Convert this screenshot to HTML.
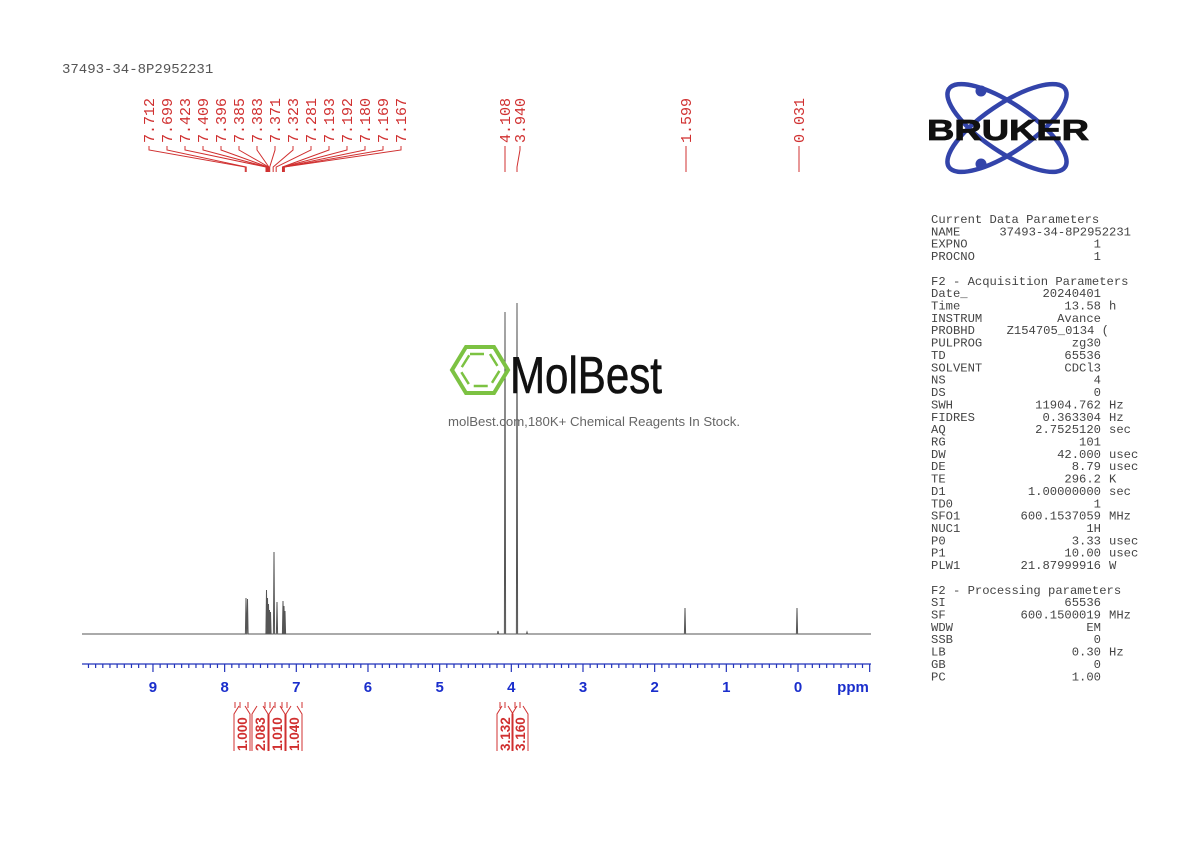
<!DOCTYPE html>
<html><head><meta charset="utf-8"><style>
html,body{margin:0;padding:0;background:#fff;}
svg{display:block;}
.m{font-family:"Liberation Mono",monospace;}
</style></head><body>
<svg id="s" width="1190" height="842" xmlns="http://www.w3.org/2000/svg">
<rect width="1190" height="842" fill="#fff"/>
<text x="62" y="73" class="m" font-size="14" fill="#555">37493-34-8P2952231</text>
<g id="peaklabels" fill="#d03030" class="m" font-size="15"></g>
<g id="ticks" stroke="#d03030" stroke-width="1" fill="none"></g>
<path id="spec" fill="none" stroke="#555" stroke-width="1"/>
<g id="axis" stroke="#2233bb" stroke-width="1.2"></g>
<g id="axl" fill="#1a2ecc" font-family="Liberation Sans,sans-serif" font-weight="bold" font-size="15" text-anchor="middle"></g>
<text x="853" y="692" fill="#1a2ecc" font-family="Liberation Sans,sans-serif" font-weight="bold" font-size="15" text-anchor="middle">ppm</text>
<g id="integ" fill="#d03030" font-family="Liberation Sans,sans-serif" font-weight="bold" font-size="13.5"></g>
<g id="integl" stroke="#d03030" fill="none" stroke-width="1"></g>
<!-- Bruker logo -->
<g>
<ellipse cx="1007" cy="128" rx="70" ry="24" fill="none" stroke="#3344aa" stroke-width="4.5" transform="rotate(34 1007 128)"/>
<ellipse cx="1007" cy="128" rx="70" ry="24" fill="none" stroke="#3344aa" stroke-width="4.5" transform="rotate(-34 1007 128)"/>
<circle cx="981" cy="91" r="5.5" fill="#3344aa"/>
<circle cx="981" cy="164" r="5.5" fill="#3344aa"/>
<text x="1008" y="140" text-anchor="middle" font-family="Liberation Sans,sans-serif" font-weight="bold" font-size="29" fill="#111" stroke="#111" stroke-width="0.8" textLength="162" lengthAdjust="spacingAndGlyphs">BRUKER</text>
</g>
<!-- MolBest -->
<g>
<polygon points="466,347 494,347 508,370 494,393 466,393 452,370" fill="none" stroke="#7cc242" stroke-width="4"/>
<polygon points="470,354 490,354 500,370 490,386 470,386 460,370" fill="none" stroke="#7cc242" stroke-width="2.5" stroke-dasharray="14 6"/>
<text x="510" y="393" font-family="Liberation Sans,sans-serif" font-size="52" fill="#111" stroke="#111" stroke-width="0.6" textLength="152" lengthAdjust="spacingAndGlyphs">MolBest</text>
<text x="448" y="426" font-family="Liberation Sans,sans-serif" font-size="13" fill="#666" textLength="292" lengthAdjust="spacingAndGlyphs">molBest.com,180K+ Chemical Reagents In Stock.</text>
</g>
<g id="params" class="m" font-size="12.2" fill="#444"></g>
</svg>
<script>
const NS="http://www.w3.org/2000/svg";
function el(p,t,a,txt){const e=document.createElementNS(NS,t);for(const k in a)e.setAttribute(k,a[k]);if(txt!==undefined)e.textContent=txt;document.getElementById(p).appendChild(e);return e;}
const X=p=>798-71.67*p, BASE=634;
// spectrum as sticks: [x, topY]
const sticks=[[246,598],[247.5,599],[266.5,590],[267.5,598],[268.5,604],[269.5,610],[270.5,612],[274,552],[277,602],[283,601],[284,606],[285,611],[498,631],[505,312],[517,303],[527,632],[685,608],[797,608]].sort((a,b)=>a[0]-b[0]);
let d="M82,"+BASE;
for(const [x,t] of sticks){d+=`L${x-0.6},${BASE}L${x},${t}L${x+0.6},${BASE}`;}
d+="L871,"+BASE;
document.getElementById("spec").setAttribute("d",d);
// axis
el("axis","line",{x1:82,y1:664,x2:871,y2:664});
for(let i=-10;i<=99;i++){const p=i/10;const x=X(p);if(x<82-0.5||x>871.5)continue;const maj=i%10==0;el("axis","line",{x1:x,y1:664,x2:x,y2:maj?672:668});if(maj&&i>=0)el("axl","text",{x:x,y:692},String(p));}
// peak labels
const labs=["7.712","7.699","7.423","7.409","7.396","7.385","7.383","7.371","7.323","7.281","7.193","7.192","7.180","7.169","7.167"];
labs.forEach((l,i)=>{const x=149+i*18;el("peaklabels","text",{x:0,y:0,transform:`translate(${x+5},143) rotate(-90)`},l);
 const tx=X(parseFloat(l));el("ticks","path",{d:`M${x},146V150L${tx},167V172`});});
[["4.108",505,505],["3.940",520,517],["1.599",686,686],["0.031",799,799]].forEach(([l,x,tx])=>{el("peaklabels","text",{x:0,y:0,transform:`translate(${x+5},143) rotate(-90)`},l);el("ticks","path",{d:`M${x},146V150L${tx},167V172`});});
// integrals
[["1.000",242],["2.083",260],["1.010",277],["1.040",294],["3.132",505],["3.160",520]].forEach(([l,x])=>{el("integ","text",{x:0,y:0,transform:`translate(${x+5},751) rotate(-90)`},l);el("integl","path",{d:`M${x-8},751V714L${x-3},706M${x+8},751V714L${x+3},706`});});
[235,240,248,265,270,275,282,287,302,500,505,515,520].forEach(x=>el("integl","line",{x1:x,y1:702,x2:x,y2:708}));
// params
const L=[["Current Data Parameters"],["NAME","37493-34-8P2952231","",1131],["EXPNO","1"],["PROCNO","1"],null,
["F2 - Acquisition Parameters"],["Date_","20240401"],["Time","13.58","h"],["INSTRUM","Avance"],["PROBHD","Z154705_0134 (","",1109],["PULPROG","zg30"],["TD","65536"],["SOLVENT","CDCl3"],["NS","4"],["DS","0"],["SWH","11904.762","Hz"],["FIDRES","0.363304","Hz"],["AQ","2.7525120","sec"],["RG","101"],["DW","42.000","usec"],["DE","8.79","usec"],["TE","296.2","K"],["D1","1.00000000","sec"],["TD0","1"],["SFO1","600.1537059","MHz"],["NUC1","1H"],["P0","3.33","usec"],["P1","10.00","usec"],["PLW1","21.87999916","W"],null,
["F2 - Processing parameters"],["SI","65536"],["SF","600.1500019","MHz"],["WDW","EM"],["SSB","0"],["LB","0.30","Hz"],["GB","0"],["PC","1.00"]];
let y=223;
L.forEach(r=>{if(r){el("params","text",{x:931,y:y},r[0]);if(r[1]!==undefined){el("params","text",{x:r[3]||1101,y:y,"text-anchor":"end"},r[1]);if(r[2])el("params","text",{x:1109,y:y},r[2]);}}y+=12.36;});
</script>
</body></html>
